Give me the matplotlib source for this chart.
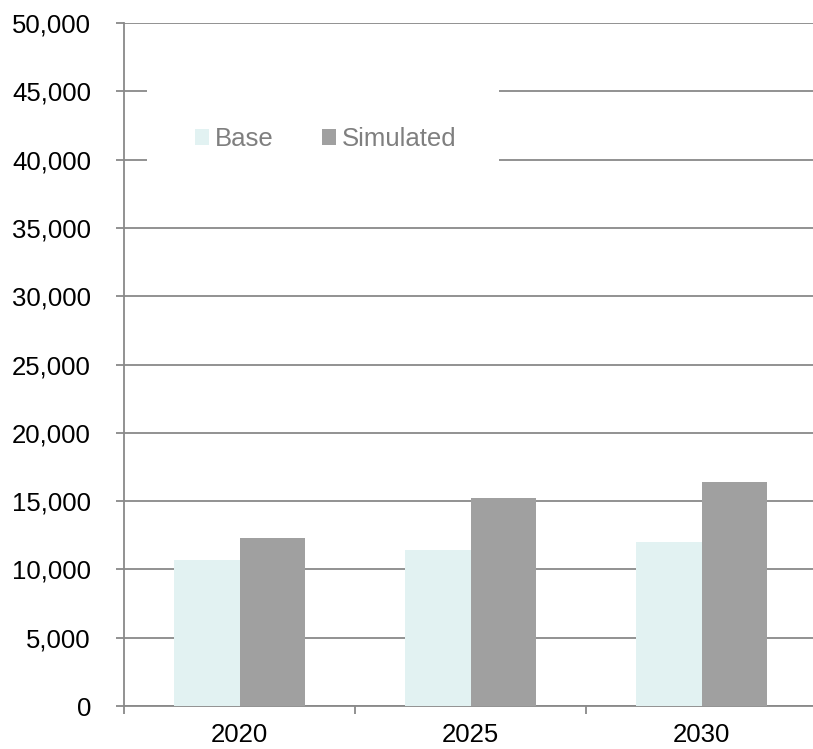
import numpy as np
import matplotlib.pyplot as plt
from matplotlib.patches import Rectangle
from matplotlib.ticker import FuncFormatter

plt.rcParams['font.family'] = ['Liberation Sans', 'DejaVu Sans']

# data
years = ['2020', '2025', '2030']
base = [10700, 11450, 12000]
simulated = [12300, 15200, 16400]

base_color = '#e2f2f2'
sim_color = '#a0a0a0'
line_color = '#898989'
fs = 18.5

fig = plt.figure(figsize=(8.13, 7.49), dpi=100)
ax = fig.add_axes([124 / 813, 1 - 706 / 749, 693 / 813, (706 - 23) / 749])

x = np.arange(len(years))
w = 0.285
ax.bar(x - w / 2, base, w, color=base_color, zorder=3, label='Base')
ax.bar(x + w / 2, simulated, w, color=sim_color, zorder=3, label='Simulated')

ax.set_xlim(-0.5, len(years) - 0.5)
ax.set_ylim(0, 50000)
ax.set_yticks(np.arange(0, 50001, 5000))
ax.yaxis.set_major_formatter(FuncFormatter(lambda v, p: f'{int(v):,}'))
ax.grid(axis='y', color=line_color, linewidth=1.3, zorder=0)

# category labels centred, tick marks at the boundaries
ax.set_xticks(np.arange(-0.5, len(years) + 0.5, 1))
ax.set_xticklabels([])
ax.set_xticks(x, minor=True)
ax.set_xticklabels(years, minor=True, fontsize=fs)
ax.tick_params(axis='x', which='minor', length=0, pad=12)
ax.tick_params(axis='x', which='major', length=5.8, color=line_color, width=1.3)
ax.tick_params(axis='y', length=5.8, color=line_color, width=1.3, labelsize=fs, pad=18)

for s in ['top', 'right']:
    ax.spines[s].set_visible(False)
for s in ['left', 'bottom']:
    ax.spines[s].set_color(line_color)
    ax.spines[s].set_linewidth(1.3)

# white box behind the legend
fig.add_artist(Rectangle((147 / 813, 1 - 168 / 749), (499 - 147) / 813, (168 - 84) / 749,
                         transform=fig.transFigure, facecolor='white', edgecolor='none', zorder=5))
leg = fig.legend(loc='center left', bbox_to_anchor=(195 / 813, 1 - 139 / 749), ncol=2,
                 frameon=False, fontsize=fs, handlelength=0.545, handleheight=0.545,
                 handletextpad=0.23, columnspacing=1.88, borderaxespad=0, borderpad=0)
leg.set_zorder(6)
for t in leg.get_texts():
    t.set_color('#7f7f7f')

fig.savefig('out.png', dpi=100)
